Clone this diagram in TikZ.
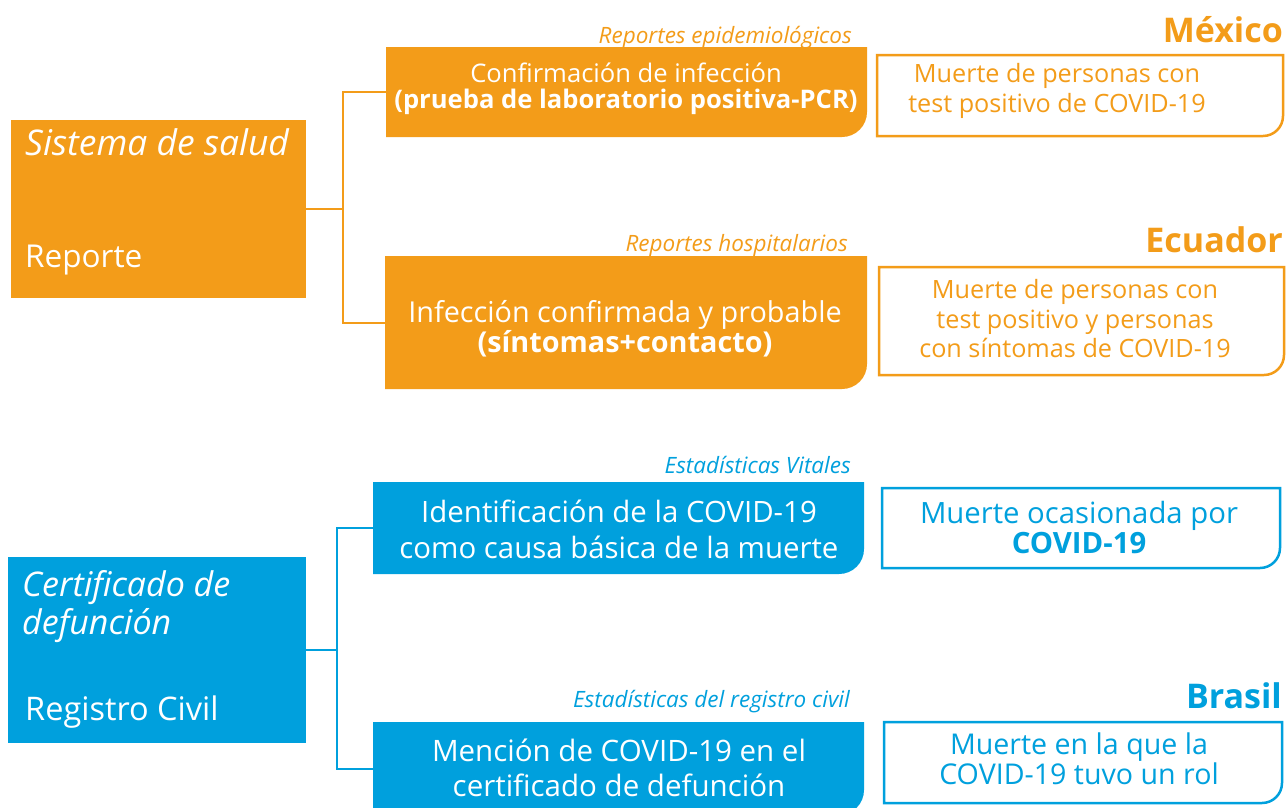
\documentclass[tikz,border=0pt]{standalone}
\usepackage{fontspec}
\setmainfont{Open Sans}
\usetikzlibrary{backgrounds}
\definecolor{org}{RGB}{243,156,25}
\definecolor{blu}{RGB}{0,160,221}
\newcommand\fsz[2]{\fontsize{#1pt}{#2pt}\selectfont}
% shape with only the bottom-right corner rounded
\newcommand\rbrshape[3]{\path[#1] (#2.north west) -- (#2.north east) -- ([yshift=#3]#2.south east) arc[start angle=0,end angle=-90,radius=#3] -- (#2.south west) -- cycle;}
\begin{document}
\begin{tikzpicture}[x=1pt,y=-1pt,
  shp/.style={anchor=north west, inner sep=0pt, outer sep=0pt},
  wt/.style={text=white, align=center, inner sep=0pt},
  ot/.style={text=org, align=center, inner sep=0pt},
  bt/.style={text=blu, align=center, inner sep=0pt},
  lab/.style={anchor=base east, inner sep=0pt, font={\fsz{22.5}{25}\itshape}},
  ctry/.style={anchor=base east, inner sep=0pt, font={\fsz{34}{38}\bfseries}},
  lt/.style={anchor=base west, inner sep=0pt, text=white},
  con/.style={line width=2pt}]
\clip (0,0) rectangle (1286,807);

% ---------- orange part ----------
\node[shp, minimum width=295pt, minimum height=178pt] (sys) at (11,120) {};
\node[lt, font={\fsz{35.4}{38}\itshape}] (sysA) at (25,155) {Sistema de salud};
\node[lt, font={\fsz{31.5}{34}}] (sysB) at (25,267) {Reporte};

\node[shp, minimum width=481pt, minimum height=90pt] (b1) at (386,47) {};
\node[wt, font={\fsz{25.6}{25.5}}] (t1) at (626,89) {Confirmación de infección\\\textbf{(prueba de laboratorio positiva-PCR)}};
\node[lab, text=org] (l1) at (852,43) {Reportes epidemiológicos};

\node[shp, minimum width=482pt, minimum height=133pt] (b2) at (385,256) {};
\node[wt, font={\fsz{28.8}{27}}] (t2) at (625,329) {Infección confirmada y probable\\\textbf{(síntomas+contacto)}};
\node[lab, text=org] (l2) at (848,251) {Reportes hospitalarios};

\node[ctry, text=org] (mx) at (1283,42) {México};
\node[shp, minimum width=406pt, minimum height=81pt] (r1) at (877,55) {};
\node[ot, font={\fsz{25.2}{30}}] (rt1) at (1057,91) {Muerte de personas con\\test positivo de COVID-19};

\node[ctry, text=org] (ec) at (1283,252) {Ecuador};
\node[shp, minimum width=405pt, minimum height=108pt] (r2) at (879,267) {};
\node[ot, font={\fsz{25.2}{29.5}}] (rt2) at (1075,319) {Muerte de personas con\\test positivo y personas\\con síntomas de COVID-19};

\coordinate (jo) at (343,209);
\draw[con, org] (sys.east) -- (jo);
\draw[con, org] (b1.west) -| (jo) |- (b2.west);

% ---------- blue part ----------
\node[shp, minimum width=298pt, minimum height=186pt] (cer) at (8,557) {};
\node[lt, font={\fsz{34}{38}\itshape}, align=left, anchor=north west] (cerA) at (22,570) {Certificado de\\defunción};
\node[lt, font={\fsz{32.5}{34}}] (cerB) at (25,720) {Registro Civil};

\node[shp, minimum width=491pt, minimum height=92pt] (b3) at (373,482) {};
\node[wt, font={\fsz{29.4}{36}}] (t3) at (619,529) {Identificación de la COVID-19\\como causa básica de la muerte};
\node[lab, text=blu] (l3) at (851,473) {Estadísticas Vitales};

\node[shp, minimum width=491pt, minimum height=93pt] (b4) at (373,722) {};
\node[wt, font={\fsz{29.5}{35}}] (t4) at (619,768) {Mención de COVID-19 en el\\certificado de defunción};
\node[lab, text=blu] (l4) at (850,707) {Estadísticas del registro civil};

\node[shp, minimum width=398pt, minimum height=80pt] (r3) at (882,488) {};
\node[bt, font={\fsz{29.3}{30}}] (rt3) at (1079,528) {Muerte ocasionada por\\\textbf{COVID-19}};

\node[ctry, text=blu] (br) at (1282,708) {Brasil};
\node[shp, minimum width=398pt, minimum height=81pt] (r4) at (884,722) {};
\node[bt, font={\fsz{28.6}{28.5}}] (rt4) at (1079,759) {Muerte en la que la\\COVID-19 tuvo un rol};

\coordinate (jb) at (337,650);
\draw[con, blu] (cer.east) -- (jb);
\draw[con, blu] (b3.west) -| (jb) |- (b4.west);

% ---------- shapes behind the texts ----------
\begin{pgfonlayer}{background}
\fill[white] (0,0) rectangle (1286,807);
\fill[org] (sys.north west) rectangle (sys.south east);
\rbrshape{fill=org}{b1}{25pt}
\rbrshape{fill=org}{b2}{25pt}
\rbrshape{draw=org, line width=2.5pt}{r1}{20pt}
\rbrshape{draw=org, line width=2.5pt}{r2}{20pt}
\fill[blu] (cer.north west) rectangle (cer.south east);
\rbrshape{fill=blu}{b3}{25pt}
\rbrshape{fill=blu}{b4}{25pt}
\rbrshape{draw=blu, line width=2.5pt}{r3}{20pt}
\rbrshape{draw=blu, line width=2.5pt}{r4}{20pt}
\end{pgfonlayer}
\end{tikzpicture}
\end{document}
